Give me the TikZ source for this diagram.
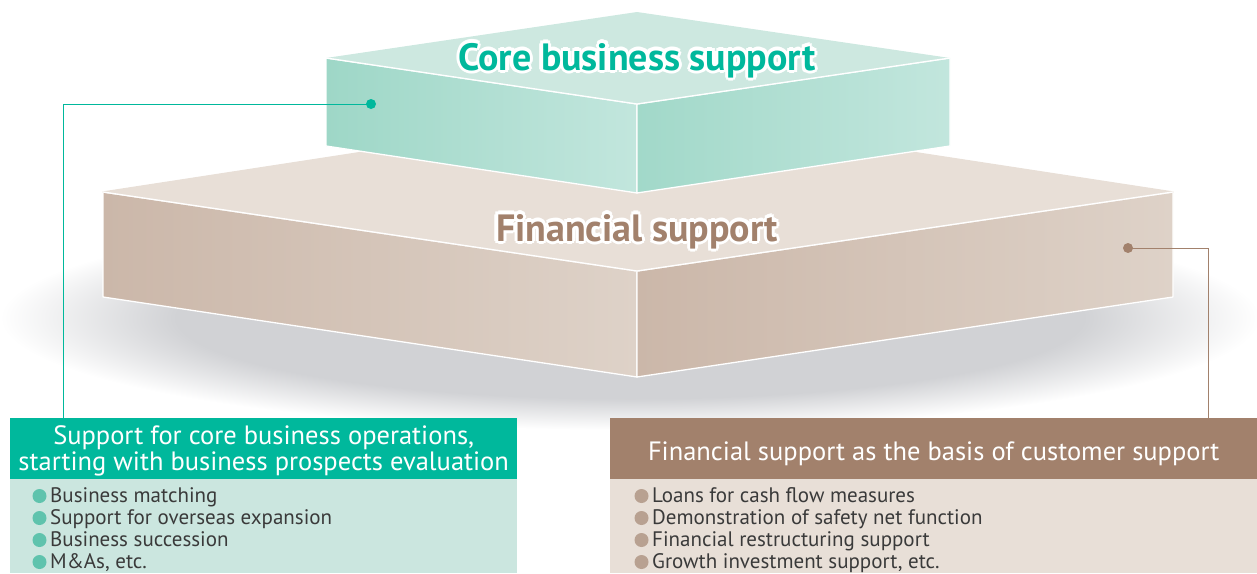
\documentclass[tikz,border=0pt]{standalone}
\usepackage{fontspec}
\setmainfont{PT Sans}
\usetikzlibrary{calc, positioning}
\definecolor{t1}{HTML}{CDE8E0}
\definecolor{t2}{HTML}{9ED7C7}
\definecolor{t3}{HTML}{C2E6DD}
\definecolor{tg}{HTML}{00B89C}
\definecolor{tb}{HTML}{CBE6DF}
\definecolor{tbul}{HTML}{5FC3AD}
\definecolor{f1}{HTML}{E8DFD7}
\definecolor{f2}{HTML}{CBB7A9}
\definecolor{f3}{HTML}{DED2C8}
\definecolor{fg}{HTML}{A2816C}
\definecolor{fbul}{HTML}{B8A191}
\definecolor{sh}{HTML}{D1D2D5}
\definecolor{tx}{HTML}{3A3A3A}
\pgfdeclareradialshading{shadowfade}{\pgfpoint{0bp}{0bp}}{color(0bp)=(sh); color(18bp)=(sh); color(25bp)=(white); color(50bp)=(white)}

\begin{document}
\begin{tikzpicture}[x=1pt, y=-1pt,
    face/.style={draw=white, line width=1.3pt, line join=round},
    title/.style={font=\fontsize{38}{40}\bfseries\selectfont, inner sep=0pt, anchor=base},
    head/.style={anchor=north west, inner sep=0pt, minimum height=61pt, text=white, align=center, font=\fontsize{26.5}{29}\selectfont},
    body/.style={anchor=north west, inner sep=0pt, minimum height=94pt},
    item/.style={anchor=base west, inner sep=0pt, text=tx, font=\fontsize{21}{22}\selectfont},
    dot/.style={circle, inner sep=0pt, minimum size=10pt}]
    \useasboundingbox (0,0) rectangle (1257,573);

    % Shadow
    \shade[shading=shadowfade] (630,318) ellipse (630 and 112);

    % Financial support block
    \shade[face, left color=f2, right color=f3] (103,192) -- (637,271) -- (637,377) -- (103,297) -- cycle;
    \shade[face, left color=f2, right color=f3] (637,271) -- (1173,192) -- (1173,297) -- (637,377) -- cycle;
    \fill[face, f1] (103,192) -- (637,110) -- (1173,192) -- (637,271) -- cycle;
    \draw[white, line width=1.3pt] (103,192) -- (637,271) -- (1173,192);

    % Core business block
    \shade[face, left color=t2, right color=t3] (326,58) -- (637,104) -- (637,193) -- (326,146) -- cycle;
    \shade[face, left color=t2!90!t3, right color=t3] (637,104) -- (950,58) -- (950,146) -- (637,193) -- cycle;
    \fill[t1] (326,58) -- (637,12) -- (950,58) -- (637,104) -- cycle;
    \draw[white, line width=1.3pt] (326,58) -- (637,104) -- (950,58);

    % Titles with white outline
    \foreach \a in {0,45,...,315} {
            \node[title, text=white] at ($(637,70)+(\a:3.2)$) {Core business support};
            \node[title, text=white] at ($(637,241)+(\a:3.2)$) {Financial support};
        }
    \node[title, text=tg] (coretitle) at (637,70) {Core business support};
    \node[title, text=fg] (fintitle) at (637,241) {Financial support};

    % Boxes
    \node[head, fill=tg, minimum width=507pt] (corehead) at (10,418) {\raisebox{-2pt}[\height][\depth]{\shortstack{Support for core business operations,\\[-1pt]starting with business prospects evaluation}}};
    \node[body, fill=tb, minimum width=507pt] (corebody) at (10,479) {};
    \node[head, fill=fg, minimum width=647pt] (finhead) at (610,418) {\raisebox{-5pt}[\height][\depth]{Financial support as the basis of customer support}};
    \node[body, fill=f1, minimum width=647pt] (finbody) at (610,479) {};

    % Items
    \foreach \txt [count=\i] in {Business matching, Support for overseas expansion, Business succession, {M\&As, etc.}} {
            \node[item] (coreitem\i) at (50, {480+22*\i}) {\txt};
            \fill[tbul] ($(coreitem\i.base west)+(-10.5,-6)$) circle (7);
        }
    \foreach \txt [count=\i] in {Loans for cash flow measures, Demonstration of safety net function, Financial restructuring support, {Growth investment support, etc.}} {
            \node[item] (finitem\i) at (652, {480+22*\i}) {\txt};
            \fill[fbul] ($(finitem\i.base west)+(-10.5,-6)$) circle (7);
        }

    % Connectors
    \node[dot, fill=tg] (coredot) at (371,104) {};
    \coordinate (corebend) at (63,104);
    \draw[tg, line width=1pt] (coredot.center) -- (corebend) -- (corebend |- corehead.north);
    \node[dot, fill=fg] (findot) at (1128,248) {};
    \coordinate (finbend) at (1208,248);
    \draw[fg, line width=1pt] (findot.center) -- (finbend) -- (finbend |- finhead.north);
\end{tikzpicture}
\end{document}
